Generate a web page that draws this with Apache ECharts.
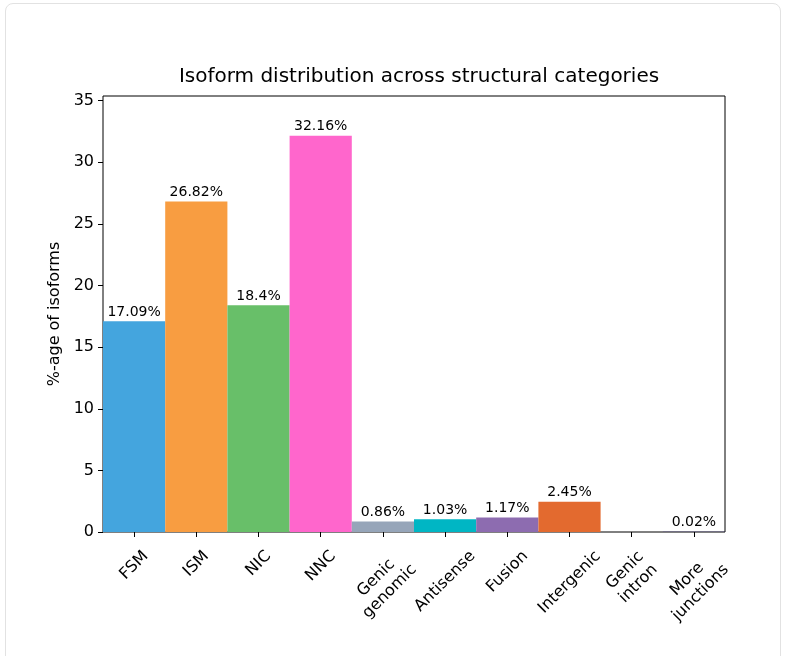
<!DOCTYPE html>
<html>
<head>
<meta charset="utf-8">
<script src="https://cdn.jsdelivr.net/npm/echarts@6/dist/echarts.min.js"></script>
<style>
  html, body { margin: 0; padding: 0; background: #fff; }
  #wrap { position: relative; width: 785px; height: 656px; overflow: hidden; }
  #card { position: absolute; left: 5px; top: 3px; width: 776px; height: 670px;
          border: 1px solid #e2e2e2; border-radius: 8px; box-sizing: border-box; }
  #chart { position: absolute; left: 0; top: 0; width: 785px; height: 656px; }
</style>
</head>
<body>
<div id="wrap">
  <div id="card"></div>
  <div id="chart"></div>
</div>
<script>
// Structural categories and share of isoforms (%) in each
const categories = ['FSM', 'ISM', 'NIC', 'NNC', 'Genic\ngenomic', 'Antisense',
                    'Fusion', 'Intergenic', 'Genic\nintron', 'More\njunctions'];
const percentages = [17.09, 26.82, 18.4, 32.16, 0.86, 1.03, 1.17, 2.45, 0, 0.02];
const yTickValues = [0, 5, 10, 15, 20, 25, 30, 35];

const barColors = ['#44a5de', '#f89d41', '#68bf69', '#ff66cc', '#96a5b9',
                   '#00b6c4', '#8d6cb0', '#e36a2f', '#41b6c4', '#4a3f8c'];

const FONT = '"DejaVu Sans", Arial, sans-serif';
const TICK_SIZE = 16;
const LINE_H = 19;

// Rotated tick labels are centred under their tick, with the top of their
// rotated bounding box at a fixed distance below the axis, so longer labels
// hang lower. The drop is applied through padding on a rich-text box.
const ctx = document.createElement('canvas').getContext('2d');
ctx.font = TICK_SIZE + 'px ' + FONT;
const LABEL_TOP = 15, LABEL_MARGIN = 20;
const xAxisData = categories.map(function (name) {
  const lines = name.split('\n');
  const w = Math.max.apply(null, lines.map(function (l) { return ctx.measureText(l).width; }));
  const h = lines.length * LINE_H;
  const boxH = (w + h) * Math.SQRT1_2;
  const drop = Math.max(0, LABEL_TOP + boxH / 2 - LABEL_MARGIN);
  const p = drop * Math.SQRT2;
  return {
    value: name,
    textStyle: {
      align: 'center', verticalAlign: 'middle', lineHeight: LINE_H,
      padding: [p, p, 0, 0]
    }
  };
});

const yMax = Math.max.apply(null, percentages) * 1.1;

const chart = echarts.init(document.getElementById('chart'), null, { renderer: 'canvas' });
chart.setOption({
  animation: false,
  backgroundColor: 'transparent',
  title: {
    text: 'Isoform distribution across structural categories',
    left: 414, top: 62, textAlign: 'center',
    textStyle: { fontFamily: FONT, fontSize: 20, fontWeight: 'normal', color: '#000' }
  },
  grid: {
    left: 103, right: 60, top: 96, bottom: 124,
    containLabel: false, outerBoundsMode: 'none',
    show: true, borderColor: '#000', borderWidth: 1, backgroundColor: 'transparent'
  },
  xAxis: {
    type: 'category',
    data: xAxisData,
    boundaryGap: true,
    axisLine: { show: false },
    axisTick: { show: true, alignWithLabel: true, length: 5, lineStyle: { color: '#000' } },
    axisLabel: {
      interval: 0, rotate: 45, align: 'center', verticalAlign: 'middle',
      margin: LABEL_MARGIN, lineHeight: LINE_H,
      fontFamily: FONT, fontSize: TICK_SIZE, color: '#000',
      formatter: function (value) {
        return value.split('\n').map(function (l) { return '{t|' + l + '}'; }).join('\n');
      },
      rich: {
        t: { fontFamily: FONT, fontSize: TICK_SIZE, lineHeight: LINE_H, color: '#000' }
      }
    },
    splitLine: { show: false }
  },
  yAxis: {
    type: 'value',
    min: 0, max: yMax,
    name: '%-age of isoforms',
    nameLocation: 'middle', nameGap: 40,
    nameTextStyle: { fontFamily: FONT, fontSize: 16, color: '#000' },
    axisLine: { show: false },
    axisTick: { show: true, length: 5, customValues: yTickValues, lineStyle: { color: '#000' } },
    axisLabel: { customValues: yTickValues, margin: 9, fontFamily: FONT, fontSize: TICK_SIZE, color: '#000' },
    splitLine: { show: false }
  },
  series: [{
    type: 'bar',
    barWidth: '100%',
    data: percentages.map(function (v, i) {
      return { value: v, itemStyle: { color: barColors[i] } };
    }),
    label: {
      show: true, position: 'top', distance: 2,
      fontFamily: FONT, fontSize: 14, color: '#000',
      formatter: function (p) { return p.value === 0 ? '' : p.value + '%'; }
    }
  }]
});
</script>
</body>
</html>
